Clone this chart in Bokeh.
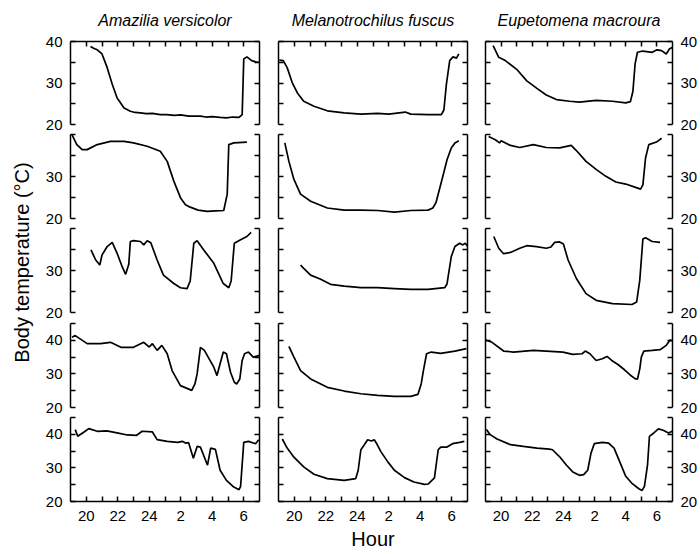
from bokeh.plotting import figure
from bokeh.layouts import gridplot, row
from bokeh.models import LinearAxis, FixedTicker, CustomJSTickFormatter, Range1d, Label
from bokeh.embed import file_html
from bokeh.resources import INLINE
import math

# ---------------- data (hours after midnight written as 24 + h) ----------------
SPECIES = ["Amazilia versicolor", "Melanotrochilus fuscus", "Eupetomena macroura"]
Y_LABEL = "Body temperature (\u00b0C)"
X_LABEL = "Hour"
HOUR_MAJOR = [20, 22, 24, 26, 28, 30]
HOUR_MINOR = [21, 23, 25, 27, 29]
HOUR_ALL = [20, 21, 22, 23, 24, 25, 26, 27, 28, 29, 30]

# Amazilia versicolor
AV1_H = [20.27, 20.5, 20.7, 21.0, 21.33, 21.65, 21.96, 22.4, 22.8, 23.1, 23.44, 23.8, 24.2, 24.7, 25.1, 25.6, 26.0, 26.5, 27.25, 27.6, 28.0, 28.5, 28.9, 29.3, 29.7, 29.9, 30.0, 30.2, 30.5, 30.85, 31.0]
AV1_T = [38.8, 38.3, 38.0, 37.0, 33.7, 29.7, 26.4, 24.0, 23.2, 22.9, 22.8, 22.6, 22.7, 22.4, 22.4, 22.2, 22.3, 22.0, 22.0, 21.8, 21.9, 21.7, 21.6, 21.8, 21.7, 22.4, 35.8, 36.3, 35.4, 35.0, 35.0]
AV2_H = [19.1, 19.4, 19.74, 20.06, 20.7, 21.54, 22.4, 23.0, 23.87, 24.7, 25.14, 25.56, 26.0, 26.3, 26.6, 27.1, 27.68, 28.2, 28.73, 28.95, 29.05, 29.37, 30.2]
AV2_T = [39.9, 37.6, 36.4, 36.4, 37.6, 38.35, 38.35, 38.0, 37.2, 36.0, 33.6, 28.9, 24.8, 23.3, 22.7, 22.0, 21.7, 21.8, 21.9, 25.8, 37.6, 38.0, 38.2]
AV3_H = [20.3, 20.6, 20.86, 21.0, 21.33, 21.65, 21.96, 22.28, 22.5, 22.7, 22.8, 23.0, 23.44, 23.65, 23.87, 24.1, 24.5, 24.9, 25.56, 25.98, 26.4, 26.6, 26.83, 27.04, 27.46, 28.1, 28.7, 29.05, 29.2, 29.4, 29.8, 30.2, 30.47]
AV3_T = [34.9, 32.5, 31.3, 33.7, 35.7, 36.7, 34.1, 30.9, 29.1, 31.5, 36.9, 37.1, 36.9, 36.1, 37.1, 36.6, 32.5, 28.9, 26.9, 25.9, 25.7, 27.5, 36.5, 37.1, 34.9, 31.7, 26.9, 25.9, 27.5, 36.5, 37.3, 38.1, 39.1]
AV4_H = [19.1, 19.3, 20.06, 20.9, 21.54, 22.2, 23.0, 23.65, 24.0, 24.2, 24.5, 24.8, 25.14, 25.45, 25.98, 26.7, 26.9, 27.04, 27.25, 27.5, 28.1, 28.3, 28.7, 28.9, 29.16, 29.4, 29.55, 29.75, 29.9, 30.05, 30.3, 30.6, 31.0]
AV4_T = [40.9, 41.4, 39.0, 39.0, 39.4, 37.9, 37.9, 39.4, 38.0, 39.0, 37.0, 38.5, 36.0, 31.0, 26.5, 25.1, 27.0, 30.0, 37.9, 37.0, 32.0, 29.5, 36.5, 36.0, 30.5, 27.5, 27.0, 28.5, 34.0, 36.0, 36.5, 35.0, 35.5]
AV5_H = [19.3, 19.46, 19.84, 20.16, 20.7, 21.3, 21.96, 22.6, 23.2, 23.55, 24.2, 24.5, 25.14, 25.8, 26.1, 26.3, 26.5, 26.8, 27.04, 27.25, 27.7, 27.9, 28.2, 28.5, 28.9, 29.37, 29.7, 29.8, 30.0, 30.3, 30.75, 30.95]
AV5_T = [41.4, 39.4, 40.6, 41.7, 40.9, 41.0, 40.4, 39.8, 39.7, 40.9, 40.7, 38.4, 37.9, 37.6, 37.9, 37.4, 37.5, 32.9, 36.4, 36.2, 30.8, 35.9, 35.5, 29.3, 26.3, 24.3, 23.5, 24.5, 37.6, 37.9, 37.2, 38.4]

# Melanotrochilus fuscus
MF1_H = [19.05, 19.3, 19.55, 19.87, 20.2, 20.6, 21.25, 22.1, 23.17, 24.23, 25.3, 26.0, 27.05, 27.4, 28.5, 29.34, 29.5, 29.66, 29.87, 30.08, 30.3, 30.45]
MF1_T = [35.5, 35.4, 33.7, 30.1, 27.6, 25.6, 24.4, 23.3, 22.8, 22.5, 22.7, 22.5, 23.0, 22.5, 22.4, 22.4, 23.5, 29.7, 35.4, 36.3, 36.0, 37.0]
MF2_H = [19.4, 19.66, 19.98, 20.4, 21.04, 22.1, 23.17, 24.23, 25.3, 26.36, 27.4, 28.5, 28.8, 29.0, 29.25, 29.5, 29.7, 29.97, 30.2, 30.45]
MF2_T = [38.0, 33.6, 29.3, 25.8, 24.1, 22.5, 22.0, 22.0, 21.9, 21.5, 21.9, 22.0, 22.5, 23.8, 27.4, 31.0, 34.0, 36.8, 38.0, 38.5]
MF3_H = [20.4, 20.6, 21.04, 21.68, 22.3, 23.17, 24.23, 25.3, 26.36, 27.4, 28.5, 29.55, 29.7, 29.97, 30.2, 30.5, 30.7, 30.86, 31.0]
MF3_T = [31.3, 30.5, 28.9, 27.9, 26.7, 26.3, 25.9, 25.9, 25.7, 25.5, 25.5, 25.9, 26.8, 33.3, 35.7, 36.5, 36.1, 36.5, 35.8]
MF4_H = [19.66, 19.98, 20.4, 21.04, 22.1, 23.17, 24.23, 25.3, 26.36, 27.4, 27.85, 28.06, 28.2, 28.4, 28.7, 29.3, 29.8, 30.2, 30.93]
MF4_T = [38.2, 35.0, 31.0, 28.5, 26.0, 24.9, 24.1, 23.6, 23.3, 23.3, 23.9, 27.0, 31.0, 36.0, 36.5, 36.1, 36.5, 36.8, 37.5]
MF5_H = [19.24, 19.55, 19.98, 20.6, 21.25, 22.1, 23.17, 23.9, 24.06, 24.23, 24.45, 24.66, 24.9, 25.08, 25.2, 25.5, 25.94, 26.36, 27.0, 27.6, 28.27, 28.5, 28.9, 29.14, 29.3, 29.7, 30.05, 30.5, 30.8]
MF5_T = [38.6, 35.9, 33.2, 30.3, 28.1, 26.8, 26.3, 26.8, 29.3, 35.4, 36.9, 38.4, 38.0, 38.4, 37.5, 34.85, 31.8, 29.3, 27.1, 25.8, 25.1, 25.2, 27.0, 35.4, 36.2, 36.2, 37.2, 37.6, 37.9]

# Eupetomena macroura
EM1_H = [19.49, 19.85, 20.27, 21.0, 21.65, 22.3, 22.9, 23.55, 24.4, 25.03, 26.1, 27.15, 28.0, 28.3, 28.46, 28.6, 28.75, 29.1, 29.7, 30.0, 30.3, 30.6, 30.8, 31.0]
EM1_T = [39.0, 36.2, 35.4, 33.3, 30.5, 28.7, 27.1, 26.0, 25.6, 25.4, 25.8, 25.6, 25.2, 25.5, 28.0, 34.6, 37.4, 37.7, 37.4, 38.0, 37.8, 37.0, 38.2, 38.6]
EM2_H = [19.2, 19.63, 19.9, 20.0, 20.6, 21.2, 22.07, 22.9, 23.76, 24.5, 24.8, 25.45, 26.1, 26.7, 27.36, 28.0, 28.63, 28.95, 29.1, 29.27, 29.48, 29.97, 30.3]
EM2_T = [39.5, 38.75, 38.0, 38.5, 37.4, 36.9, 37.6, 36.9, 36.8, 37.4, 36.3, 33.6, 31.7, 30.1, 28.7, 28.2, 27.4, 27.0, 28.0, 34.4, 37.6, 38.2, 39.1]
EM3_H = [19.53, 19.85, 20.16, 20.6, 21.2, 21.65, 22.27, 22.9, 23.2, 23.44, 23.76, 24.0, 24.3, 24.83, 25.45, 26.1, 27.15, 28.4, 28.7, 28.9, 29.1, 29.27, 29.7, 30.2]
EM3_T = [38.1, 35.3, 34.0, 34.3, 35.3, 35.9, 35.7, 35.3, 35.6, 36.7, 36.8, 36.3, 32.5, 28.1, 24.5, 22.9, 22.1, 21.9, 22.5, 27.7, 37.5, 37.8, 36.9, 36.7]
EM4_H = [19.0, 19.42, 20.16, 20.8, 22.07, 22.9, 23.97, 24.6, 25.2, 25.4, 25.7, 26.1, 26.5, 26.8, 27.1, 27.5, 27.9, 28.3, 28.6, 28.75, 28.9, 29.0, 29.16, 29.7, 30.2, 30.6, 30.85, 31.0]
EM4_T = [40.1, 39.4, 36.8, 36.5, 37.0, 36.8, 36.5, 35.8, 36.0, 36.8, 36.0, 34.0, 34.5, 35.2, 34.0, 32.8, 31.3, 29.6, 28.6, 28.4, 31.5, 35.0, 36.8, 37.0, 37.2, 38.5, 40.1, 39.8]
EM5_H = [19.06, 19.3, 19.74, 20.6, 21.43, 22.3, 23.1, 23.3, 23.76, 24.2, 24.6, 25.03, 25.3, 25.56, 25.77, 25.98, 26.5, 26.9, 27.25, 27.57, 28.0, 28.42, 28.84, 29.05, 29.2, 29.4, 29.52, 29.8, 30.1, 30.4, 30.75, 31.0]
EM5_T = [41.4, 39.9, 38.6, 36.9, 36.4, 35.9, 35.6, 35.4, 33.3, 30.8, 28.8, 27.8, 28.0, 29.3, 34.4, 37.2, 37.6, 37.4, 35.9, 32.3, 27.5, 25.3, 23.8, 23.3, 24.5, 31.0, 39.4, 40.4, 41.6, 41.2, 40.4, 41.0]

SERIES = [
    [(AV1_H, AV1_T), (MF1_H, MF1_T), (EM1_H, EM1_T)],
    [(AV2_H, AV2_T), (MF2_H, MF2_T), (EM2_H, EM2_T)],
    [(AV3_H, AV3_T), (MF3_H, MF3_T), (EM3_H, EM3_T)],
    [(AV4_H, AV4_T), (MF4_H, MF4_T), (EM4_H, EM4_T)],
    [(AV5_H, AV5_T), (MF5_H, MF5_T), (EM5_H, EM5_T)],
]
Y_TOP = [40, 40, 40, 45, 45]
Y_MAJOR = [[20, 30, 40], [20, 30], [20, 30], [20, 30, 40], [20, 30, 40]]
Y_MINOR = [[25, 35], [25, 35, 40], [25, 35, 40], [25, 35, 45], [25, 35, 45]]

# ---------------- layout / style (page has no margin: 700 x 554) ----------------
FONT = "Liberation Sans"
LAB_W = 34
COL_W = [234, 208, 224]
COL_BL = [36, 10, 9]
COL_BR = [9, 9, 26]
ROW_H = [133, 94, 95, 94, 138]
ROW_BT = [41, 1, 1, 1, 1]
ROW_BB = [9, 9, 10, 9, 53]
TOTAL_H = sum(ROW_H)
LW = 1.5


def style_axis(ax, labels):
    ax.axis_line_color = "black"
    ax.axis_line_width = LW
    ax.major_tick_in = 5
    ax.major_tick_out = 0
    ax.minor_tick_in = 5
    ax.minor_tick_out = 0
    ax.major_tick_line_color = "black"
    ax.minor_tick_line_color = "black"
    ax.major_tick_line_width = LW
    ax.minor_tick_line_width = LW
    ax.major_label_text_font = FONT
    if labels:
        ax.major_label_text_color = "black"
        ax.major_label_text_font_size = "15px"
        ax.major_label_standoff = 8
    else:
        ax.major_label_text_color = None
        ax.major_label_text_font_size = "0px"
        ax.major_label_standoff = 0
    ax.axis_label_text_font = FONT
    ax.axis_label_text_font_style = "normal"
    ax.axis_label_text_color = "black"


hour_fmt = CustomJSTickFormatter(code="return (tick > 24 ? tick - 24 : tick).toFixed(0);")

rows = []
for r in range(5):
    cells = []
    for c in range(3):
        p = figure(width=COL_W[c], height=ROW_H[r],
                   x_range=Range1d(19, 31), y_range=Range1d(20, Y_TOP[r]),
                   x_axis_type=None, y_axis_type=None,
                   toolbar_location=None, output_backend="svg", title=None,
                   min_border_left=COL_BL[c], min_border_right=COL_BR[c],
                   min_border_top=ROW_BT[r], min_border_bottom=ROW_BB[r])
        p.outline_line_color = None
        p.background_fill_color = "white"
        p.border_fill_color = "white"

        for side in ("left", "right"):
            ax = LinearAxis(ticker=FixedTicker(ticks=Y_MAJOR[r], minor_ticks=Y_MINOR[r]))
            show = (side == "left" and c == 0) or (side == "right" and c == 2)
            style_axis(ax, show)
            p.add_layout(ax, side)

        if r == 0:
            ax = LinearAxis(ticker=FixedTicker(ticks=HOUR_ALL))
            style_axis(ax, False)
            ax.axis_label = SPECIES[c]
            ax.axis_label_text_font_style = "italic"
            ax.axis_label_text_font_size = "16px"
            ax.axis_label_standoff = 13
            p.add_layout(ax, "above")
        if r == 4:
            ax = LinearAxis(ticker=FixedTicker(ticks=HOUR_MAJOR, minor_ticks=HOUR_MINOR),
                            formatter=hour_fmt)
            style_axis(ax, True)
            ax.major_label_standoff = 9
            if c == 1:
                ax.axis_label = X_LABEL
                ax.axis_label_text_font_size = "20px"
                ax.axis_label_standoff = 4
            p.add_layout(ax, "below")

        h, t = SERIES[r][c]
        p.line(h, t, line_color="black", line_width=1.7)
        cells.append(p)
    rows.append(cells)

grid = gridplot(rows, toolbar_location=None)

# left strip that carries the shared y-axis title
lab = figure(width=LAB_W, height=TOTAL_H, x_range=Range1d(0, LAB_W), y_range=Range1d(0, TOTAL_H),
             x_axis_type=None, y_axis_type=None, toolbar_location=None, output_backend="svg",
             title=None, min_border=0)
lab.outline_line_color = None
lab.add_layout(Label(x=21, y=TOTAL_H - 262, text=Y_LABEL, angle=math.pi / 2,
                     text_align="center", text_baseline="middle", text_font=FONT,
                     text_font_size="20px", text_color="black"))

layout = row(lab, grid)
open("out.html", "w").write(file_html(layout, INLINE))
